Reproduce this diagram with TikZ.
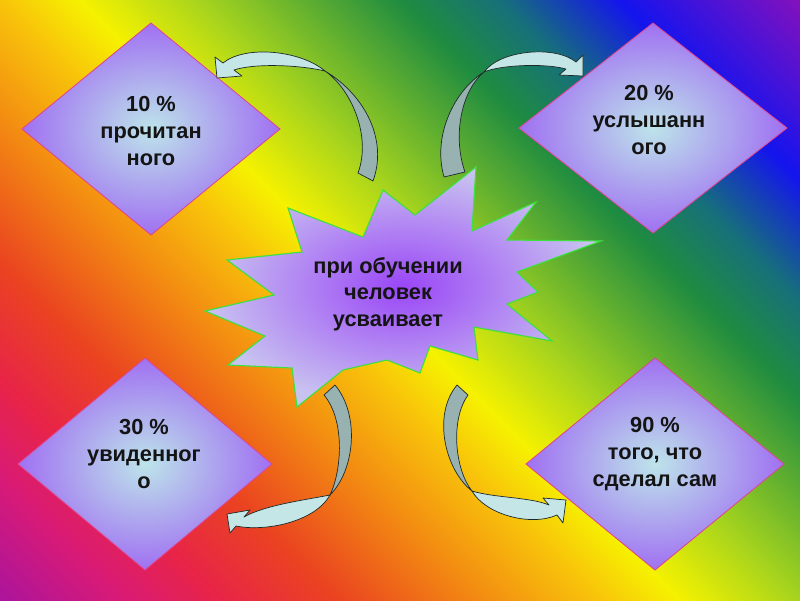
\documentclass[tikz,border=0pt]{standalone}
\usepackage{fontspec}
\setmainfont{Liberation Sans}
\usetikzlibrary{shapes.geometric}
\definecolor{bg0}{HTML}{9C12A8}
\definecolor{bg1}{HTML}{D81A78}
\definecolor{bg2}{HTML}{E82448}
\definecolor{bg3}{HTML}{EA4420}
\definecolor{bg4}{HTML}{F38A12}
\definecolor{bg5}{HTML}{F8C40A}
\definecolor{bg6}{HTML}{F6F200}
\definecolor{bg7}{HTML}{A6D41E}
\definecolor{bg8}{HTML}{1F8C40}
\definecolor{bg9}{HTML}{16707A}
\definecolor{bg10}{HTML}{1414EE}
\definecolor{bg11}{HTML}{9010B8}
\definecolor{diain}{HTML}{BDE4EA}
\definecolor{diaout}{HTML}{A070F2}
\definecolor{diaedge}{HTML}{E0458E}
\definecolor{starin}{HTML}{9A46F6}
\definecolor{starout}{HTML}{C8C2F0}
\definecolor{stargreen}{HTML}{3EE03E}
\definecolor{arrdarkc}{HTML}{98B2B2}
\definecolor{arrlightc}{HTML}{C4E6E6}
\definecolor{arrline}{HTML}{1E2A2A}
\definecolor{txt}{HTML}{141414}
\tikzset{
  dia/.style={diamond, draw=diaedge, line width=0.6pt, inner color=diain, outer color=diaout, inner sep=0pt, outer sep=0pt},
  lbl/.style={align=center, text=txt, font=\bfseries\fontsize{15.5}{19}\selectfont},
  starshape/.style={draw=stargreen, line width=0.8pt, inner color=starin, outer color=starout, line join=miter},
  arrdark/.style={fill=arrdarkc, draw=arrline, line width=0.5pt, line join=round},
  arrlight/.style={fill=arrlightc, draw=arrline, line width=0.5pt, line join=round}
}
\begin{document}
\begin{tikzpicture}[x=0.025cm,y=-0.025cm]
\useasboundingbox (0,0) rectangle (800,600);
% background rainbow gradient (bands at 45 degrees)
\begin{scope}
\clip (0,0) rectangle (800,600);
\foreach \ta/\tb/\ca/\cb in {-640/-480/bg0/bg1,-480/-380/bg1/bg2,-380/-260/bg2/bg3,-260/-120/bg3/bg4,-120/0/bg4/bg5,0/80/bg5/bg6,80/200/bg6/bg7,200/400/bg7/bg8,400/500/bg8/bg9,500/620/bg9/bg10,620/820/bg10/bg11}{
  \pgfmathtruncatemacro\N{(\tb-\ta)/4}
  \foreach \k in {1,...,\N}{
    \pgfmathsetmacro\tone{\ta+(\k-1)*4}
    \pgfmathsetmacro\ttwo{\tone+5}
    \pgfmathsetmacro\p{100*(\k-0.5)/\N}
    \fill[\cb!\p!\ca] (\tone-50,-50) -- (\tone+650,650) -- (\ttwo+650,650) -- (\ttwo-50,-50) -- cycle;
  }
}
\end{scope}
% diamonds
\node[dia, minimum width=6.45cm, minimum height=5.3cm] (d1) at (151,129) {};
\node[dia, minimum width=6.7cm, minimum height=5.25cm] (d2) at (653,128) {};
\node[dia, minimum width=6.35cm, minimum height=5.3cm] (d3) at (145,464) {};
\node[dia, minimum width=6.45cm, minimum height=5.3cm] (d4) at (655,464) {};
% central star
\path[starshape] (383,190) -- (415,215) -- (476,167) -- (472,231) -- (536,202) -- (507,240) -- (601,241) -- (517,272) -- (538,292) -- (507,304) -- (552,341) -- (474,327) -- (478,360) -- (430,346) -- (420,373) -- (387,360) -- (343,370) -- (297,407) -- (292,368) -- (228,365) -- (265,336) -- (205,311) -- (274,295) -- (227,260) -- (302,252) -- (288,208) -- (363,237) -- cycle;
% curved arrows
% top left
\path[arrdark] (358,173) .. controls (372,135) and (350,88) .. (325,71) .. controls (365,95) and (388,140) .. (373,181) -- cycle;
\path[arrlight] (325,71) .. controls (300,50) and (245,45) .. (223,63) -- (215,57) -- (217,78) -- (242,76) -- (234,70) .. controls (255,63) and (300,65) .. (325,71) -- cycle;
% top right
\path[arrdark] (444,177) .. controls (432,135) and (455,90) .. (484,72) .. controls (462,90) and (452,135) .. (465,172) -- cycle;
\path[arrlight] (484,72) .. controls (500,50) and (555,45) .. (576,62) -- (583,55) -- (583,76) -- (559,75) -- (566,69) .. controls (545,63) and (500,65) .. (484,72) -- cycle;
% bottom left
\path[arrdark] (335,385) .. controls (360,415) and (355,470) .. (330,495) .. controls (342,470) and (345,420) .. (324,395) -- cycle;
\path[arrlight] (330,495) .. controls (315,522) and (265,532) .. (236,526) -- (230,533) -- (227,514) -- (250,510) -- (244,517) .. controls (265,505) and (305,500) .. (330,495) -- cycle;
% bottom right
\path[arrdark] (457,385) .. controls (432,415) and (445,470) .. (472,491) .. controls (455,470) and (450,420) .. (468,395) -- cycle;
\path[arrlight] (472,491) .. controls (485,514) and (530,527) .. (557,515) -- (563,523) -- (566,500) -- (543,498) -- (549,505) .. controls (530,497) and (495,498) .. (472,491) -- cycle;
% texts
\node[lbl] (t1) at (151,131) {10 \%\\прочитан\\ного};
\node[lbl] (t2) at (649,120) {20 \%\\услышанн\\ого};
\node[lbl] (t3) at (144,454) {30 \%\\увиденног\\о};
\node[lbl] (t4) at (655,454) {90 \%\\того, что\\сделал сам};
\node[lbl] (c) at (388,294) {при обучении\\человек\\усваивает};
\end{tikzpicture}
\end{document}
